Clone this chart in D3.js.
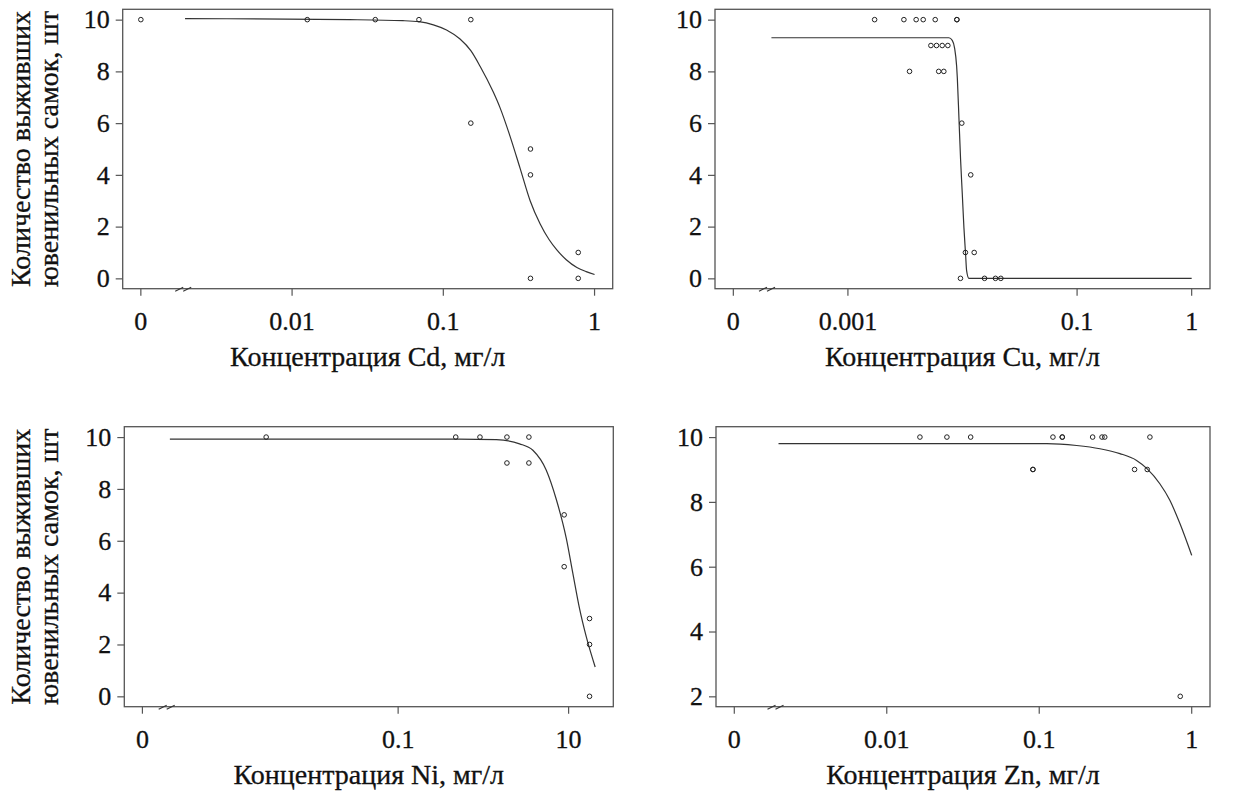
<!DOCTYPE html>
<html><head><meta charset="utf-8">
<script src="https://cdn.jsdelivr.net/npm/d3@7"></script>
<style>
body{margin:0;background:#fff}
text{font-family:"Liberation Serif","Times New Roman",serif;fill:#111;stroke:#111;stroke-width:0.3px}
</style>
</head><body>
<svg id="chart" width="1244" height="793"></svg>
<script>
// ---------- data ----------
// Cd
const cdConc = [0, 0.0126, 0.0355, 0.069, 0.152, 0.152, 0.377, 0.377, 0.377, 0.78, 0.78];
const cdSurv = [10, 10, 10, 10, 10, 6, 5, 4, 0, 1, 0];
const cdCurveConc = [0.00196, 0.024, 0.054, 0.069, 0.086, 0.105, 0.129, 0.152, 0.175, 0.214, 0.237, 0.276, 0.322, 0.375, 0.437, 0.5, 0.563, 0.65, 0.764, 0.88, 1.0];
const cdCurveSurv = [10.04, 10.0, 9.96, 9.92, 9.8, 9.6, 9.25, 8.8, 8.2, 7.2, 6.6, 5.5, 4.25, 3.0, 2.1, 1.5, 1.1, 0.72, 0.42, 0.26, 0.15];
const cdTicks = [0, 0.01, 0.1, 1];
const cdTickLabels = ["0", "0.01", "0.1", "1"];

// Cu
const cuConc = [0.00171, 0.00308, 0.00394, 0.00454, 0.00578, 0.00893, 0.00893,
                0.0053, 0.00593, 0.00665, 0.00745,
                0.00345, 0.0062, 0.00687,
                0.00986, 0.0118, 0.0106, 0.01265,
                0.0096, 0.01557, 0.0194, 0.0216];
const cuSurv = [10, 10, 10, 10, 10, 10, 10, 9, 9, 9, 9, 8, 8, 8, 6, 4, 1, 1, 0, 0, 0, 0];
const cuCurveConc = [0.000215, 0.005, 0.0076, 0.00814, 0.00853, 0.00889, 0.00901, 0.00931, 0.00962, 0.00996, 0.01029, 0.01064, 0.01086, 0.01138, 1.0];
const cuCurveSurv = [9.3, 9.3, 9.3, 9.2, 8.9, 8.2, 7.76, 6.2, 4.6, 3.25, 1.96, 0.93, 0.3, 0.0, 0.0];
const cuTicks = [0, 0.001, 0.1, 1];
const cuTickLabels = ["0", "0.001", "0.1", "1"];

// Ni
const niConc = [0.00283, 0.474, 0.912, 1.89, 3.42, 1.89, 3.42, 8.87, 8.87, 17.6, 17.6, 17.6];
const niSurv = [10, 10, 10, 10, 10, 9, 9, 7, 5, 3, 2, 0];
const niCurveConc = [0.00021, 0.5, 1.42, 2.66, 3.81, 5.47, 7.16, 9.38, 11.2, 13.4, 16.1, 20.5];
const niCurveSurv = [9.92, 9.92, 9.9, 9.74, 9.49, 8.72, 7.6, 6.1, 4.75, 3.4, 2.3, 1.13];
const niTicks = [0, 0.1, 10];
const niTickLabels = ["0", "0.1", "10"];

// Zn
const znConc = [0.0165, 0.0248, 0.0355, 0.123, 0.1416, 0.1416, 0.224, 0.258, 0.269, 0.532, 0.0909, 0.0909, 0.422, 0.511, 0.841];
const znSurv = [10, 10, 10, 10, 10, 10, 10, 10, 10, 10, 9, 9, 9, 9, 2];
const znCurveConc = [0.00195, 0.05, 0.112, 0.176, 0.25, 0.338, 0.435, 0.511, 0.618, 0.719, 0.837, 1.0];
const znCurveSurv = [9.8, 9.8, 9.8, 9.74, 9.64, 9.49, 9.28, 9.02, 8.56, 8.05, 7.33, 6.35];
const znTicks = [0, 0.01, 0.1, 1];
const znTickLabels = ["0", "0.01", "0.1", "1"];

const yTicks10 = [0, 2, 4, 6, 8, 10];
const yTicksZn = [2, 4, 6, 8, 10];

const xTitles = ["Концентрация Cd, мг/л", "Концентрация Cu, мг/л", "Концентрация Ni, мг/л", "Концентрация Zn, мг/л"];
const yTitleLines = ["Количество выживших", "ювенильных самок, шт"];

// ---------- layout ----------
const panels = [
  {conc: cdConc, surv: cdSurv, cc: cdCurveConc, cs: cdCurveSurv, ticks: cdTicks, labels: cdTickLabels,
   yTicks: yTicks10, title: xTitles[0], zeroLog: -3, breakLog: -2.7,
   left: 122.7, right: 612.7, top: 9.3, bottom: 288.7, ylab: true},
  {conc: cuConc, surv: cuSurv, cc: cuCurveConc, cs: cuCurveSurv, ticks: cuTicks, labels: cuTickLabels,
   yTicks: yTicks10, title: xTitles[1], zeroLog: -4, breakLog: -3.68,
   left: 715, right: 1210, top: 9.3, bottom: 288.7, ylab: false},
  {conc: niConc, surv: niSurv, cc: niCurveConc, cs: niCurveSurv, ticks: niTicks, labels: niTickLabels,
   yTicks: yTicks10, title: xTitles[2], zeroLog: -4, breakLog: -3.68,
   left: 124.3, right: 613.3, top: 426.7, bottom: 706.7, ylab: true},
  {conc: znConc, surv: znSurv, cc: znCurveConc, cs: znCurveSurv, ticks: znTicks, labels: znTickLabels,
   yTicks: yTicksZn, title: xTitles[3], zeroLog: -3, breakLog: -2.71,
   left: 716, right: 1210, top: 426.7, bottom: 706.7, ylab: false}
];

const svg = d3.select("#chart");
const axisColor = "#555";
const serif = "'Liberation Serif','Times New Roman',serif";

panels.forEach(p => {
  const maxLog = Math.log10(d3.max(p.cc));
  const ext = (maxLog - p.zeroLog) * 0.04;
  const x = d3.scaleLog()
    .domain([Math.pow(10, p.zeroLog - ext), Math.pow(10, maxLog + ext)])
    .range([p.left, p.right]);
  const yMin = d3.min(p.yTicks), yMax = d3.max(p.yTicks);
  const yExt = (yMax - yMin) * 0.04;
  const y = d3.scaleLinear().domain([yMin - yExt, yMax + yExt]).range([p.bottom, p.top]);
  const xp = v => v === 0 ? x(Math.pow(10, p.zeroLog)) : x(v);

  const g = svg.append("g");

  // box
  g.append("rect").attr("x", p.left).attr("y", p.top)
    .attr("width", p.right - p.left).attr("height", p.bottom - p.top)
    .attr("fill", "none").attr("stroke", axisColor).attr("stroke-width", 1.3);

  // y axis
  const yAxis = d3.axisLeft(y).tickValues(p.yTicks).tickSize(7).tickPadding(6).tickFormat(d3.format("d"));
  const ya = g.append("g").attr("transform", `translate(${p.left},0)`).call(yAxis)
    .attr("font-family", serif).attr("font-size", 26);
  ya.select(".domain").remove();
  ya.selectAll(".tick line").attr("stroke", axisColor).attr("stroke-width", 1.2);
  ya.selectAll(".tick text").attr("fill", "#111");

  // x axis ticks
  const xa = g.append("g");
  p.ticks.forEach((t, i) => {
    const px = xp(t);
    xa.append("line").attr("x1", px).attr("x2", px).attr("y1", p.bottom).attr("y2", p.bottom + 7)
      .attr("stroke", axisColor).attr("stroke-width", 1.2);
    xa.append("text").attr("x", px).attr("y", p.bottom + 41).attr("text-anchor", "middle")
      .attr("font-family", serif).attr("font-size", 26).text(p.labels[i]);
  });

  // break marks
  const bx = x(Math.pow(10, p.breakLog));
  [-7, 1].forEach(o => {
    g.append("line").attr("x1", bx + o - 4).attr("y1", p.bottom + 2.5)
      .attr("x2", bx + o + 4).attr("y2", p.bottom - 1.5)
      .attr("stroke", "#333").attr("stroke-width", 1.1);
  });

  // x title
  g.append("text").attr("x", (p.left + p.right) / 2).attr("y", p.bottom + 77)
    .attr("text-anchor", "middle").attr("font-family", serif).attr("font-size", 28).text(p.title);

  // y title
  if (p.ylab) {
    const cy = (p.top + p.bottom) / 2;
    [30, 58].forEach((bxl, i) => {
      g.append("text").attr("transform", `translate(${bxl},${cy}) rotate(-90)`)
        .attr("text-anchor", "middle").attr("font-family", serif).attr("font-size", 28).text(yTitleLines[i]);
    });
  }

  // fitted curve
  const line = d3.line().x(d => x(d[0])).y(d => y(d[1])).curve(d3.curveMonotoneX);
  g.append("path").datum(p.cc.map((c, i) => [c, p.cs[i]]))
    .attr("d", line).attr("fill", "none").attr("stroke", "#333").attr("stroke-width", 1.2);

  // points
  g.selectAll("circle.pt").data(p.conc.map((c, i) => [c, p.surv[i]])).enter()
    .append("circle").attr("class", "pt")
    .attr("cx", d => xp(d[0])).attr("cy", d => y(d[1])).attr("r", 2.3)
    .attr("fill", "none").attr("stroke", "#222").attr("stroke-width", 1);
});
</script>
</body></html>
